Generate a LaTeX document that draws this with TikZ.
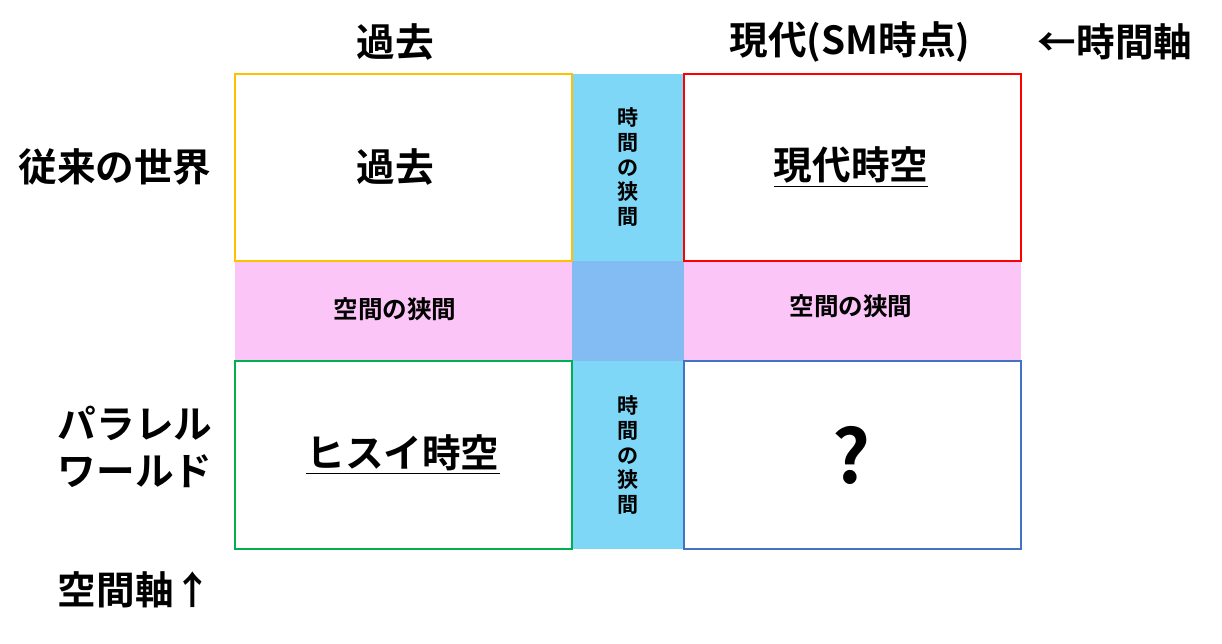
\documentclass[tikz,border=0pt]{standalone}
\usepackage{fontspec}
\setmainfont{Noto Sans CJK JP}[BoldFont={Noto Sans CJK JP Bold}]
\begin{document}
\begin{tikzpicture}[x=0.02cm,y=-0.02cm,
  cell/.style={draw,line width=1.6pt,fill=white},
  big/.style={font=\bfseries\fontsize{22}{27}\selectfont},
  midtext/.style={font=\bfseries\fontsize{14}{17}\selectfont},
  vert/.style={font=\bfseries\fontsize{12}{14}\selectfont,align=center}]
\definecolor{orng}{HTML}{FFC000}
\definecolor{rd}{HTML}{FF0000}
\definecolor{grn}{HTML}{00B050}
\definecolor{bl}{HTML}{4472C4}
\definecolor{sky}{HTML}{7FD7F7}
\definecolor{pnk}{HTML}{FCC5F8}
\definecolor{midblue}{HTML}{82BCF2}
\useasboundingbox (0,0) rectangle (1222,643);
\fill[pnk] (235,261) rectangle (1021,361);
\fill[sky] (572,74) rectangle (684,549);
\fill[midblue] (572,261) rectangle (684,361);
\draw[cell,draw=orng] (235,74) rectangle (572,261);
\draw[cell,draw=rd] (684,74) rectangle (1021,261);
\draw[cell,draw=grn] (235,361) rectangle (572,549);
\draw[cell,draw=bl] (684,361) rectangle (1021,549);
\node[big] (h1) at (395,42) {過去};
\node[big] (h2) at (850,42) {現代(SM時点)};
\node[big] (h3) at (1115,42) {←時間軸};
\node[big] (l1) at (115,167) {従来の世界};
\node[big,align=center] (l2) at (135,447) {パラレル\\ワールド};
\node[big] (l3) at (135,590) {空間軸↑};
\node[big] (c1) at (395,167) {過去};
\node[big] (c2) at (851,167) {\underline{現代時空}};
\node[midtext] (p1) at (395,309) {空間の狭間};
\node[midtext] (p2) at (851,306) {空間の狭間};
\node[big] (c3) at (403,455) {\underline{ヒスイ時空}};
\node[font=\bfseries\fontsize{42}{46}\selectfont] (c4) at (851,455) {?};
\node[vert] (v1) at (628,167) {時\\間\\の\\狭\\間};
\node[vert] (v2) at (628,455) {時\\間\\の\\狭\\間};
\end{tikzpicture}
\end{document}
